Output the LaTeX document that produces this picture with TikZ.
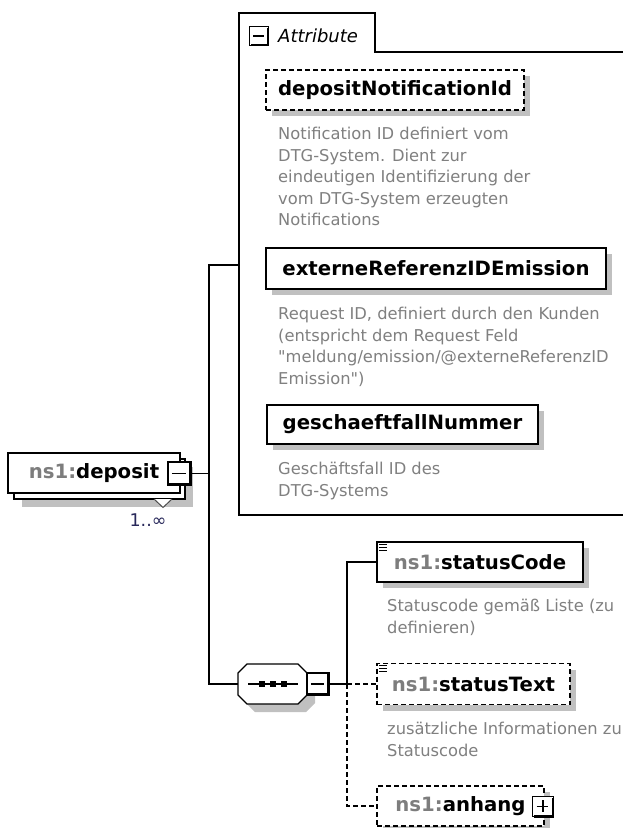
\documentclass[tikz,border=0pt]{standalone}
\usepackage{fontspec}
\setmainfont{DejaVu Sans}[Ligatures=TeXOff]
\usetikzlibrary{calc}
\definecolor{descgrey}{RGB}{128,128,128}
\definecolor{nsgrey}{RGB}{125,125,125}
\definecolor{shadowgrey}{RGB}{192,192,192}
\definecolor{occur}{RGB}{40,40,90}
\newcommand{\nslabel}[1]{\textcolor{nsgrey}{ns1:}#1}
% collapse/expand button with a raised right and bottom edge
\newcommand{\togglebtn}[4]{%
  \node[btn, minimum width=#3, minimum height=#3] (#1) at (#2) {};
  \draw[line width=2.6pt] ([xshift=-1pt,yshift=-2pt]#1.north east) -- ([xshift=-1pt,yshift=1pt]#1.south east) -- ([xshift=2pt,yshift=1pt]#1.south west);
  \draw[line width=1.1pt] ([xshift=4.5pt]#1.west) -- ([xshift=-5.5pt]#1.east);
  \ifx#4p\draw[line width=1.1pt] ([yshift=-4.5pt]#1.north) -- ([yshift=5.5pt]#1.south);\fi
}
% three-line content marker
\newcommand{\contentmark}[1]{%
  \draw[line width=0.8pt] ($(#1.north west)+(3,3)$) -- ++(8,0)
    ($(#1.north west)+(3,6)$) -- ++(8,0)
    ($(#1.north west)+(3,9)$) -- ++(8,0);
}
\begin{document}
\begin{tikzpicture}[x=1pt,y=-1pt,
  conn/.style={line width=1.3pt},
  dconn/.style={line width=1.3pt, dash pattern=on 5pt off 3pt},
  boxshadow/.style={preaction={fill=shadowgrey, draw=none, transform canvas={shift={(#1,-#1)}}}},
  elem/.style={draw, line width=1.3pt, fill=white, inner sep=0pt,
    font=\fontsize{19.7}{23}\selectfont\bfseries, boxshadow=6pt},
  optelem/.style={elem, dash pattern=on 5pt off 3pt},
  btn/.style={draw, line width=1.2pt, fill=white, inner sep=0pt},
  desc/.style={anchor=north west, inner sep=0pt, align=left, text=descgrey,
    font=\fontsize{16.3}{21.5}\selectfont},
]
\useasboundingbox (0,0) rectangle (622,828);
\fill[white] (0,0) rectangle (622,828);

% attribute group frame with its tab
\draw[line width=1.3pt] (640,515) -- (239,515) -- (239,13) -- (375,13) -- (375,52) -- (640,52);
\coordinate (attrL) at (239,265);
\togglebtn{attrbtn}{259,36}{19pt}{m}
\node[anchor=base west, inner sep=0pt, font=\fontsize{18}{21}\selectfont\itshape] (attrtitle) at (278,42) {Attribute};

\node[optelem, minimum width=258pt, minimum height=40pt] (dni) at (395,90) {depositNotificationId};
\node[desc] (dnidesc) at (278,124.5) {\strut Notification ID definiert vom\\DTG-System. Dient zur\\eindeutigen Identifizierung der\\vom DTG-System erzeugten\\Notifications};

\node[elem, minimum width=340pt, minimum height=41pt] (ext) at (436,268.5) {externeReferenzIDEmission};
\node[desc] (extdesc) at (278,304.5) {\strut Request ID, definiert durch den Kunden\\(entspricht dem Request Feld\\"meldung/emission/@externeReferenzID\\Emission")};

\node[elem, minimum width=271pt, minimum height=39pt] (gf) at (402.5,424.5) {geschaeftfallNummer};
\node[desc] (gfdesc) at (278,459.5) {\strut Geschäftsfall ID des\\DTG-Systems};

% root element, repeated 1..unbounded
\node[draw, line width=1.3pt, fill=white, minimum width=171pt, minimum height=40pt, boxshadow=8pt] (depback) at (99.5,479) {};
\node[draw, line width=1.3pt, fill=white, minimum width=172pt, minimum height=40pt, inner sep=0pt,
  font=\fontsize{19.7}{23}\selectfont\bfseries] (dep) at (94,473) {\nslabel{deposit}\hspace{5pt}};
\draw[line width=1pt, draw=black!70, fill=white] (154,499) -- (163,507.5) -- (172,499);
\togglebtn{depbtn}{179.5,473.5}{23pt}{m}
\node[inner sep=0pt, text=occur, font=\fontsize{17.5}{20}\selectfont] (occ) at (148,520) {1..∞};

% sequence compositor
\node[minimum width=69pt, minimum height=40pt, inner sep=0pt] (seq) at (272.5,684) {};
\fill[shadowgrey] (255,672) -- (306,672) -- (315,681) -- (315,703) -- (306,712) -- (255,712) -- (246,703) -- (246,681) -- cycle;
\draw[line width=1.2pt, fill=white] (247,664) -- (298,664) -- (307,673) -- (307,695) -- (298,704) -- (247,704) -- (238,695) -- (238,673) -- cycle;
\draw[line width=1.2pt] (248,684) -- (298,684);
\foreach \sx in {262,273,284} \fill (\sx-2.7,681.3) rectangle (\sx+2.7,686.7);
\togglebtn{seqbtn}{318,684}{22pt}{m}

% child elements of the sequence
\node[elem, minimum width=206pt, minimum height=40pt] (sc) at (480,562) {\nslabel{statusCode}};
\contentmark{sc}
\node[desc] (scdesc) at (387,596.5) {\strut Statuscode gemäß Liste (zu\\definieren)};

\node[optelem, minimum width=193pt, minimum height=41pt] (st) at (473.5,684) {\nslabel{statusText}};
\contentmark{st}
\node[desc] (stdesc) at (387,719.5) {\strut zusätzliche Informationen zu\\Statuscode};

\node[optelem, minimum width=167pt, minimum height=40pt] (anh) at (460.5,806) {\nslabel{anhang}\hspace{8pt}};
\togglebtn{anhbtn}{543,806.5}{20.5pt}{p}

% connectors
\coordinate (jA) at (209,265);
\coordinate (jB) at (209,684);
\coordinate (jC) at (347,684);
\draw[conn] (depbtn.east) -- (depbtn.east -| jA);
\draw[conn] (attrL) -- (jA) -- (jB) -- (seq.west);
\draw[conn] (seqbtn.east) -- (jC) |- (sc.west);
\draw[dconn] (jC) -- (st.west);
\draw[dconn] (jC) |- (anh.west);
\end{tikzpicture}
\end{document}
